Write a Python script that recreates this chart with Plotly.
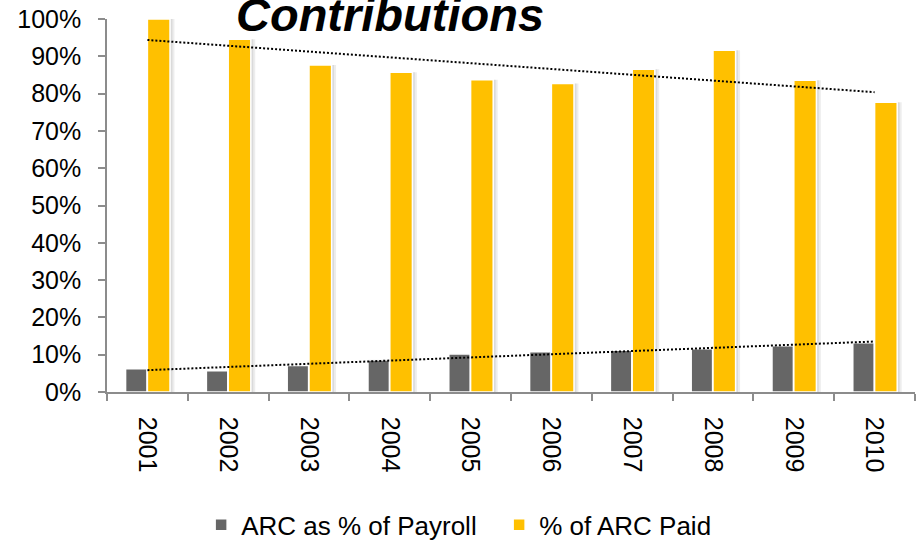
import numpy as np
import plotly.graph_objects as go

# Data
years = ["2001", "2002", "2003", "2004", "2005", "2006", "2007", "2008", "2009", "2010"]
arc_pct_payroll = [0.062, 0.057, 0.071, 0.086, 0.102, 0.108, 0.112, 0.116, 0.124, 0.132]
arc_paid_pct = [1.000, 0.946, 0.877, 0.857, 0.837, 0.827, 0.865, 0.916, 0.836, 0.777]

series_names = ["ARC as % of Payroll", "% of ARC Paid"]
title_text = "Contributions"

GRAY = "#666666"
GOLD = "#FFC000"
AXIS = "#8c8c8c"
FONT = "Liberation Sans, Arial, sans-serif"

fig = go.Figure()

# soft drop shadows behind the bars
for vals, off, w in [(arc_pct_payroll, -0.27, 0.265), (arc_paid_pct, 0.0, 0.28)]:
    fig.add_trace(go.Bar(
        x=years, y=vals, offset=off + 0.035, width=w + 0.02,
        marker=dict(color="rgba(0,0,0,0.07)", line=dict(width=0)),
        showlegend=False, hoverinfo="skip",
    ))
    fig.add_trace(go.Bar(
        x=years, y=vals, offset=off + 0.02, width=w + 0.01,
        marker=dict(color="rgba(0,0,0,0.08)", line=dict(width=0)),
        showlegend=False, hoverinfo="skip",
    ))

fig.add_trace(go.Bar(
    x=years, y=arc_pct_payroll, name=series_names[0],
    offset=-0.27, width=0.265,
    marker=dict(color=GRAY, line=dict(color="white", width=1.5)),
))
fig.add_trace(go.Bar(
    x=years, y=arc_paid_pct, name=series_names[1],
    offset=0.0, width=0.28,
    marker=dict(color=GOLD, line=dict(color="white", width=1.5)),
))

# linear trendlines fitted to each series
idx = np.arange(len(years))
for vals in (arc_pct_payroll, arc_paid_pct):
    slope, icpt = np.polyfit(idx, vals, 1)
    fig.add_trace(go.Scatter(
        x=[years[0], years[-1]], y=[icpt, icpt + slope * idx[-1]],
        mode="lines", line=dict(color="black", width=2, dash="2px,2px"),
        showlegend=False, hoverinfo="skip",
    ))

fig.add_annotation(
    text=f"<b><i>{title_text}</i></b>", xref="paper", yref="paper",
    x=0.35, y=1.013, xanchor="center", yanchor="middle", showarrow=False,
    font=dict(family=FONT, size=47, color="black"),
)

fig.update_layout(
    width=922, height=543,
    margin=dict(l=107, r=7, t=19, b=151, autoexpand=False),
    plot_bgcolor="white", paper_bgcolor="white",
    barmode="overlay",
    font=dict(family=FONT, size=25, color="black"),
    showlegend=True,
    legend=dict(
        orientation="h", x=0.1165, y=-0.293, xanchor="left", yanchor="top",
        font=dict(family=FONT, size=26, color="black"),
        entrywidth=253, entrywidthmode="pixels",
        traceorder="normal",
    ),
    xaxis=dict(
        type="category", showgrid=False, showline=True, linecolor=AXIS, linewidth=1.5,
        ticks="outside", tickson="boundaries", ticklen=7, tickcolor=AXIS, tickwidth=1.5,
        tickangle=90, tickfont=dict(family=FONT, size=25, color="black"),
        range=[-0.5, 9.5], automargin=False, ticklabelstandoff=18,
    ),
    yaxis=dict(
        range=[0, 1], dtick=0.1, tickformat=".0%", showgrid=False, zeroline=False,
        showline=True, linecolor=AXIS, linewidth=1.5,
        ticks="outside", ticklen=7, tickcolor=AXIS, tickwidth=1.5,
        tickfont=dict(family=FONT, size=25, color="black"), automargin=False,
        ticklabelstandoff=12,
    ),
)

fig.write_html("out.html")
